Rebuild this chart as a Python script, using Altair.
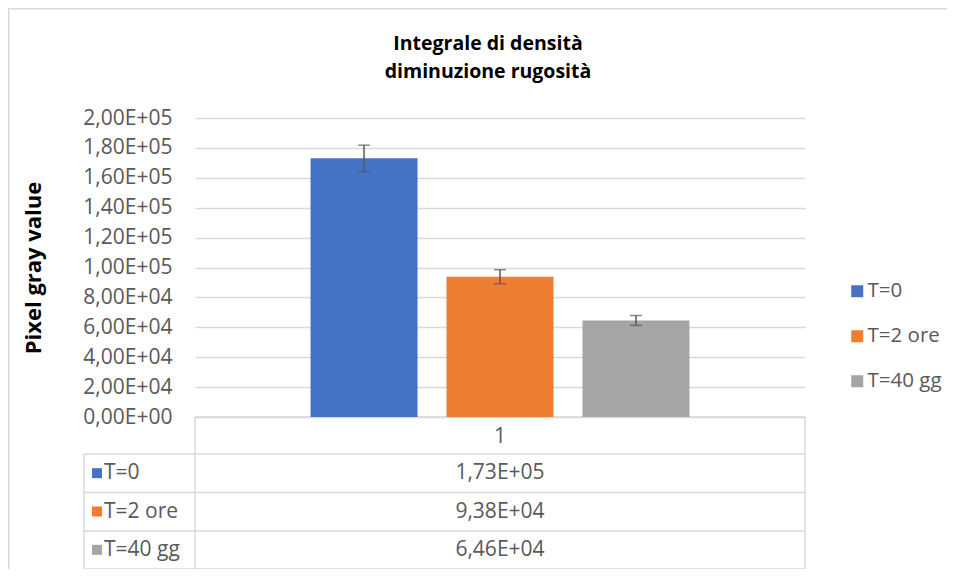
import altair as alt
import pandas as pd

series = ["T=0", "T=2 ore", "T=40 gg"]
values = [173000, 93800, 64600]
errors = [8800, 4700, 3300]
colors = ["#4472C4", "#ED7D31", "#A5A5A5"]
category = "1"
title_lines = ["Integrale di densità", "diminuzione rugosità"]
y_title = "Pixel gray value"


def sci_it(v):
    s = f"{v:.2E}"
    mant, exp = s.split("E")
    sign = exp[0]
    num = int(exp[1:])
    return mant.replace(".", ",") + "E" + sign + f"{num:02d}"


df = pd.DataFrame({
    "series": series,
    "value": values,
    "low": [v - e for v, e in zip(values, errors)],
    "high": [v + e for v, e in zip(values, errors)],
    "label": [sci_it(v) for v in values],
})

FONT = "Open Sans"
GRID = "#d9d9d9"
TXT = "#595959"
W, H = 610, 299
FS = 21
FS_NAME = 21

color = alt.Color(
    "series:N",
    scale=alt.Scale(domain=series, range=colors),
    legend=alt.Legend(
        orient="none", legendX=652, legendY=163, title=None,
        symbolType="square", symbolSize=144, symbolStrokeWidth=0,
        labelFontSize=20.5, labelColor=TXT, labelFont=FONT,
        rowPadding=24, labelOffset=0, padding=0,
    ),
)

xscale = alt.Scale(domain=series, paddingInner=0.213, paddingOuter=0.85)

label_expr = (
    "datum.value == 0 ? '0,00E+00' : "
    "replace(format(datum.value / pow(10, floor(log(datum.value)/LN10 + 1e-9)), '.2f'), '.', ',')"
    " + 'E+' + (floor(log(datum.value)/LN10 + 1e-9) < 10 ? '0' : '')"
    " + floor(log(datum.value)/LN10 + 1e-9)"
)

base = alt.Chart(df)
yscale = alt.Scale(domain=[0, 200000], nice=False)

yaxis = alt.Axis(
    values=list(range(0, 200001, 20000)), labelExpr=label_expr,
    domain=False, ticks=False, tickSize=0, labelPadding=23,
    labelOverlap=False,
    labelFontSize=FS, labelColor=TXT, labelFont=FONT,
    grid=True, gridColor=GRID, gridWidth=1.5,
    title=y_title, titleFont=FONT, titleFontSize=22, titleFontWeight="bold",
    titleColor="#000000", titleAngle=270, titleX=-162, titleY=H / 2,
    titleAlign="center", titleBaseline="middle",
)

bars = base.mark_bar().encode(
    x=alt.X("series:N", scale=xscale, axis=None),
    y=alt.Y("value:Q", scale=yscale, axis=yaxis),
    color=color,
)

err = base.mark_rule(color=TXT, strokeWidth=1.5).encode(
    x=alt.X("series:N", scale=xscale, axis=None),
    y=alt.Y("low:Q", scale=yscale, axis=yaxis),
    y2="high:Q",
)
cap_hi = base.mark_tick(color=TXT, size=12, thickness=1.5, orient="horizontal").encode(
    x=alt.X("series:N", scale=xscale, axis=None), y=alt.Y("high:Q", scale=yscale, axis=yaxis)
)
cap_lo = base.mark_tick(color=TXT, size=12, thickness=1.5, orient="horizontal").encode(
    x=alt.X("series:N", scale=xscale, axis=None), y=alt.Y("low:Q", scale=yscale, axis=yaxis)
)

main = alt.layer(bars, err, cap_hi, cap_lo)

one = pd.DataFrame({"k": [0]})


def hline(x1, x2, y, col=GRID, w=1.5):
    return alt.Chart(one).mark_rule(color=col, strokeWidth=w).encode(
        x=alt.value(x1), x2=alt.value(x2), y=alt.value(y)
    )


def vline(x, y1, y2, col=GRID, w=1.5):
    return alt.Chart(one).mark_rule(color=col, strokeWidth=w).encode(
        x=alt.value(x), y=alt.value(y1), y2=alt.value(y2)
    )


table_lines = [
    hline(0, W, 299),
    hline(-111, W, 336),
    hline(-111, W, 374.5),
    hline(-111, W, 413),
    hline(-111, W, 451),
    vline(-111, 336, 451),
    vline(0, 299, 451),
    vline(W, 299, 451),
]

frame = [
    hline(-187, 752, -109.25, col="#d9d9d9", w=1.5),
    vline(-186.25, -110, 452, col="#d9d9d9", w=1.5),
]

row_y = alt.Y("series:N", scale=alt.Scale(domain=series, range=[336, 451], paddingInner=0, paddingOuter=0), axis=None)

tbl_vals = base.mark_text(font=FONT, fontSize=FS, color=TXT, align="center", baseline="middle").encode(
    x=alt.value(W / 2), y=row_y, text="label:N"
)
tbl_names = base.mark_text(font=FONT, fontSize=FS_NAME, color=TXT, align="left", baseline="middle").encode(
    x=alt.value(-91), y=row_y, text="series:N"
)
tbl_keys = base.mark_square(size=100, opacity=1).encode(
    x=alt.value(-98), y=row_y, color=color
)
tbl_head = alt.Chart(pd.DataFrame({"c": [category]})).mark_text(
    font=FONT, fontSize=FS, color=TXT, align="center", baseline="middle"
).encode(x=alt.value(W / 2), y=alt.value(319), text="c:N")

title_layers = [
    alt.Chart(pd.DataFrame({"t": [line]})).mark_text(
        font=FONT, fontSize=19.5, fontWeight="bold", color="#000000",
        align="center", baseline="middle",
    ).encode(x=alt.value(293), y=alt.value(yy), text="t:N")
    for line, yy in zip(title_lines, [-74, -46])
]

table = alt.layer(tbl_vals, tbl_names, tbl_keys)

chart = alt.layer(
    *frame, *table_lines, main, table, tbl_head, *title_layers,
).resolve_scale(y="independent").properties(
    width=W, height=H,
    autosize=alt.AutoSizeParams(type="none"),
    padding={"left": 187, "top": 110, "right": 142, "bottom": 152},
    background="white",
).configure_view(stroke=None)

chart.save("out.html", embed_options={"renderer": "svg", "actions": False})
